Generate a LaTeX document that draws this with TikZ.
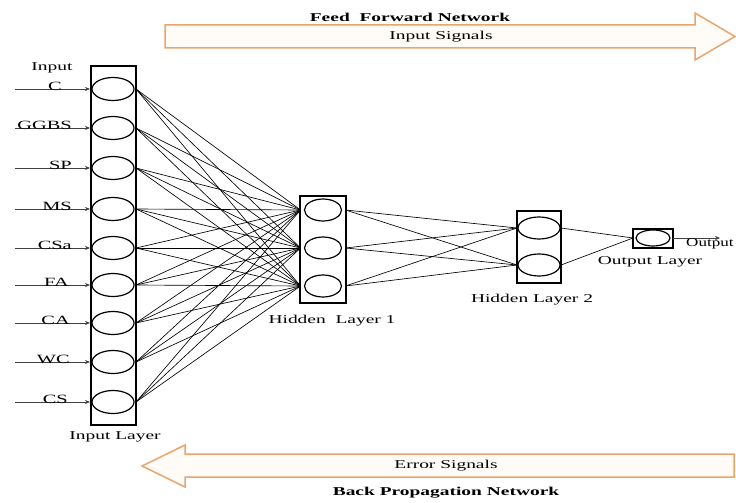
\documentclass[tikz,border=0pt]{standalone}
\usepackage{fontspec}
\setmainfont{Liberation Serif}
\usetikzlibrary{arrows.meta,shapes.geometric}
\definecolor{arrowline}{RGB}{234,165,110}
\definecolor{arrowfill}{RGB}{255,251,246}
\newcommand{\sx}[1]{\scalebox{1.62}[1]{#1}}
\begin{document}
\begin{tikzpicture}[x=1pt,y=-1pt,
  font=\fontsize{12}{14}\selectfont,
  layerbox/.style={draw, line width=2.2pt, inner sep=0pt},
  neuron/.style={ellipse, draw, line width=1.2pt, inner sep=0pt},
  conn/.style={line width=0.65pt},
  inarrow/.style={line width=0.6pt, draw=black!75, -{Stealth[length=5pt,width=4pt]}},
  bigarrow/.style={draw=arrowline, fill=arrowfill, line width=1.5pt, line join=miter},
  lbl/.style={inner sep=0pt},
  title/.style={inner sep=0pt, font=\fontsize{12}{14}\selectfont\bfseries}]
\clip (0,0) rectangle (736,503);
\fill[white] (0,0) rectangle (736,503);

% feed forward arrow
\draw[bigarrow] (165,25) -- (695,25) -- (695,13) -- (735,36.5) -- (695,60) -- (695,48) -- (165,48) -- cycle;
\node[title] (ff) at (410,17) {\sx{Feed\ \ Forward Network}};
\node[lbl] (is) at (441,37) {\sx{Input Signals}};

% back propagation arrow
\draw[bigarrow] (734,454) -- (185,454) -- (185,445) -- (142,466) -- (185,487) -- (185,477) -- (734,477) -- cycle;
\node[lbl] (es) at (446,466) {\sx{Error Signals}};
\node[title] (bp) at (446,493) {\sx{Back Propagation Network}};

% layer boxes
\node[layerbox, minimum width=45pt, minimum height=359pt] (L1) at (113.5,245.5) {};
\node[layerbox, minimum width=46pt, minimum height=107pt] (L2) at (323,249.5) {};
\node[layerbox, minimum width=44pt, minimum height=72pt] (L3) at (539,247) {};
\node[layerbox, minimum width=40pt, minimum height=19pt] (L4) at (653,238.5) {};

% input layer
\node[lbl] (inp) at (52,68) {\sx{Input}};
\foreach \lab/\yy/\xx [count=\i] in {C/89/62, GGBS/128/72, SP/168/72, MS/209/72, CSa/248/72, FA/285/69, CA/323/70, WC/362/70, CS/402/68} {
  \node[neuron, minimum width=42pt, minimum height=23pt, outer xsep=2pt] (i\i) at (113,\yy) {};
  \coordinate (s\i) at (15,\yy);
  \draw[inarrow] (s\i) -- (i\i.west);
  \node[lbl, anchor=base east] (t\i) at (\xx,\yy+1.5) {\scalebox{1.7}[1.05]{\lab}};
}
\node[lbl] (il) at (115,437) {\sx{Input Layer}};

% hidden layer 1
\foreach \yy [count=\j] in {210,248,286} {
  \node[neuron, minimum width=37pt, minimum height=22pt, outer xsep=4pt] (h\j) at (323,\yy) {};
}
\node[lbl] (hl1) at (332,321) {\sx{Hidden\ \ Layer 1}};

% hidden layer 2
\foreach \yy [count=\k] in {228,265} {
  \node[neuron, minimum width=42pt, minimum height=22pt, outer xsep=1pt] (g\k) at (539,\yy) {};
}
\node[lbl] (hl2) at (532,300) {\sx{Hidden Layer 2}};

% output
\node[neuron, minimum width=34pt, minimum height=16pt, outer xsep=3pt] (o1) at (653,238) {};
\node[lbl] (ol) at (650,262) {\sx{Output Layer}};
\coordinate (oend) at (720,238);
\draw[inarrow] (o1.east) -- (oend);
\node[lbl, anchor=west] (ot) at (686,244) {\scalebox{1.42}[1]{Output}};

% connections
\foreach \i in {1,...,9} \foreach \j in {1,2,3} \draw[conn] (i\i.east) -- (h\j.west);
\foreach \j in {1,2,3} \foreach \k in {1,2} \draw[conn] (h\j.east) -- (g\k.west);
\foreach \k in {1,2} \draw[conn] (g\k.east) -- (o1.west);
\end{tikzpicture}
\end{document}
